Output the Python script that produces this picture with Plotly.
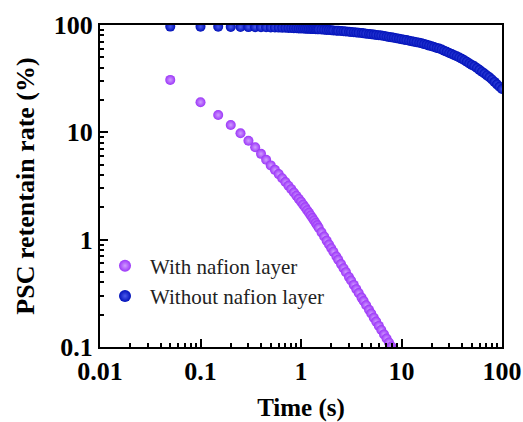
import plotly.graph_objects as go

# Time (s)
time_s = [0.05, 0.1, 0.15, 0.2, 0.25, 0.3, 0.35, 0.4, 0.45, 0.5,
          0.55, 0.6, 0.65, 0.7, 0.75, 0.8, 0.85, 0.9, 0.95, 1.0,
          1.05, 1.1, 1.15, 1.2, 1.25, 1.3, 1.35, 1.4, 1.45, 1.5,
          1.6, 1.7, 1.8, 1.9, 2.0, 2.1, 2.25, 2.35, 2.5, 2.65,
          2.8, 3.0, 3.15, 3.35, 3.55, 3.75, 4.0, 4.2, 4.45, 4.75,
          5.0, 5.3, 5.6, 5.95, 6.3, 6.7, 7.1, 7.5, 7.95, 8.4,
          8.9, 9.45, 10.0, 10.6, 11.2, 11.9, 12.6, 13.3, 14.1, 15.0,
          15.85, 16.8, 17.8, 18.85, 19.95, 21.1, 22.4, 23.7, 25.1, 26.6,
          28.2, 29.85, 31.6, 33.5, 35.5, 37.6, 39.8, 42.15, 44.65, 47.3,
          50.1, 53.1, 56.25, 59.55, 63.1, 66.85, 70.8, 75.0, 79.45, 84.15,
          89.15, 94.4, 100.0]

# With nafion layer (%), read up to ~10 s (below 0.1 % it leaves the axis)
with_nafion = [30.8, 19.1, 14.5, 11.7, 9.8, 8.35, 7.25, 6.3, 5.55, 4.92,
               4.47, 4.08, 3.74, 3.44, 3.18, 2.955, 2.75, 2.57, 2.40, 2.26,
               2.12, 2.00, 1.88, 1.78, 1.68, 1.59, 1.51, 1.43, 1.36, 1.29,
               1.17, 1.069, 0.979, 0.901, 0.833, 0.773, 0.696, 0.651, 0.592, 0.542,
               0.498, 0.448, 0.416, 0.379, 0.346, 0.3185, 0.2885, 0.268, 0.245, 0.222,
               0.205, 0.1875, 0.1724, 0.1572, 0.144, 0.131, 0.120, 0.1102, 0.1009, 0.0927,
               0.0849, 0.0774, 0.0710]

# Without nafion layer (%)
without_nafion = [96.6, 96.4, 96.2, 96.0, 95.8, 95.6, 95.5, 95.4, 95.2, 95.0,
                  94.8, 94.6, 94.4, 94.2, 94.0, 93.8, 93.5, 93.2, 93.0, 92.8,
                  92.7, 92.5, 92.3, 92.1, 91.9, 91.7, 91.6, 91.4, 91.3, 91.1,
                  90.8, 90.4, 90.0, 89.7, 89.4, 89.1, 88.6, 88.4, 88.0, 87.5,
                  87.0, 86.5, 86.1, 85.6, 85.1, 84.7, 84.1, 83.6, 83.0, 82.4,
                  81.9, 81.4, 80.9, 80.3, 79.7, 78.9, 78.1, 77.4, 76.7, 76.0,
                  75.3, 74.6, 73.8, 73.0, 72.3, 71.4, 70.7, 70.0, 69.2, 68.4,
                  67.5, 66.4, 65.4, 64.3, 63.3, 62.3, 61.2, 60.3, 59.1, 57.6,
                  56.3, 54.9, 53.6, 52.3, 51.1, 49.8, 48.4, 46.9, 45.4, 43.9,
                  42.5, 41.2, 39.7, 38.2, 36.7, 35.3, 33.9, 32.6, 31.1, 29.5,
                  28.0, 26.6, 25.3]

series_names = ["With nafion layer", "Without nafion layer"]
x_ticks = [0.01, 0.1, 1, 10, 100]
x_tick_text = ["0.01", "0.1", "1", "10", "100"]
y_ticks = [0.1, 1, 10, 100]
y_tick_text = ["0.1", "1", "10", "100"]

PURPLE = "#9C36F8"
BLUE = "#0010B8"
SERIF = "Liberation Serif"

fig = go.Figure()
fig.add_trace(go.Scatter(
    x=time_s[:len(with_nafion)], y=with_nafion, mode="markers", name=series_names[0],
    marker=dict(size=10, color=PURPLE, line=dict(width=0),
                gradient=dict(type="radial", color="#D09CFF")),
    cliponaxis=True,
))
fig.add_trace(go.Scatter(
    x=time_s, y=without_nafion, mode="markers", name=series_names[1],
    marker=dict(size=10, color=BLUE, line=dict(width=0),
                gradient=dict(type="radial", color="#4A5AEC")),
    cliponaxis=True,
))

axis_common = dict(
    type="log", showgrid=False, zeroline=False, automargin=False,
    showline=True, linecolor="black", linewidth=2, mirror=True,
    ticks="inside", ticklen=8, tickwidth=2, tickcolor="black",
    tickfont=dict(family=SERIF, size=26, color="black", weight="bold"),
    minor=dict(ticks="inside", ticklen=4, tickwidth=1.5, tickcolor="black",
               dtick="D1", showgrid=False),
    layer="above traces",
)

fig.update_xaxes(
    **axis_common, range=[-2, 2], tickvals=x_ticks, ticktext=x_tick_text,
    title=dict(text="Time (s)", font=dict(family=SERIF, size=25, color="black", weight="bold"),
               standoff=18),
)
fig.update_yaxes(
    **axis_common, range=[-1, 2], tickvals=y_ticks, ticktext=y_tick_text,
    title=dict(text="PSC retentain rate (%)",
               font=dict(family=SERIF, size=26, color="black", weight="bold"),
               standoff=12),
)

fig.update_layout(
    width=523, height=422, autosize=False,
    margin=dict(l=100, r=21, t=25, b=75),
    paper_bgcolor="white", plot_bgcolor="white",
    font=dict(family=SERIF, color="black"),
    showlegend=True,
    legend=dict(x=0.0, y=0.315, xanchor="left", yanchor="top",
                bgcolor="rgba(0,0,0,0)", borderwidth=0,
                font=dict(family=SERIF, size=21, color="#222222"),
                itemsizing="constant", itemwidth=40, tracegroupgap=0),
)

fig.write_html("out.html")
